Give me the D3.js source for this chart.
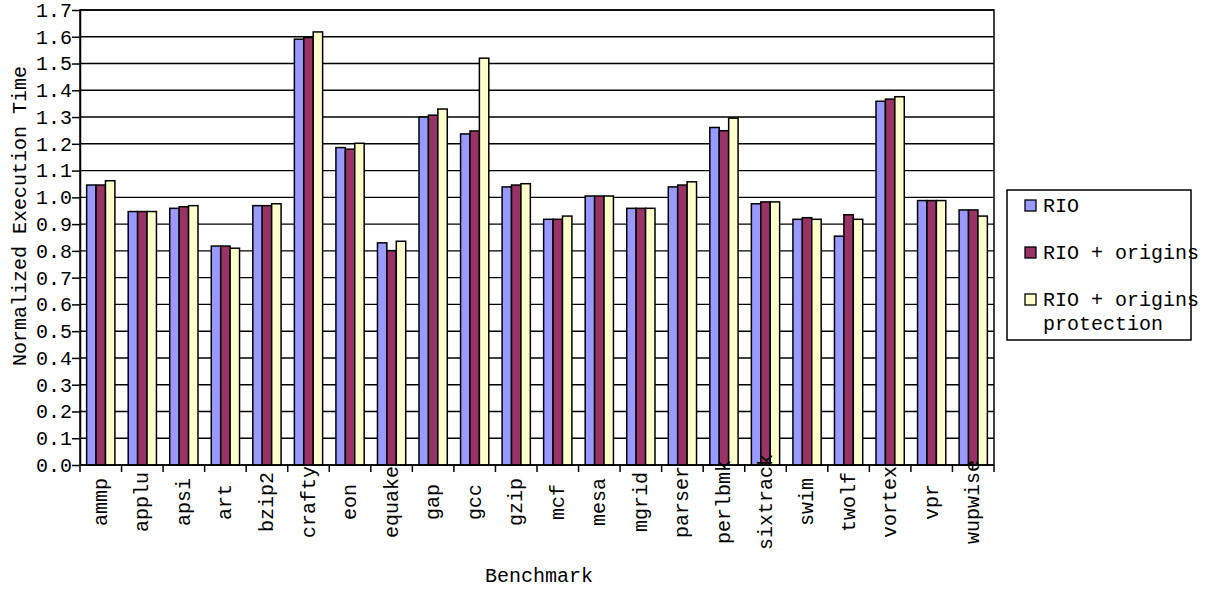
<!DOCTYPE html>
<html lang="en">
<head>
    <meta charset="utf-8"/>
    <title>Normalized Execution Time</title>
    <style>
        body {
            margin: 0;
            background: #fff;
        }

        svg text {
            font-family: "Liberation Mono", "DejaVu Sans Mono", monospace;
            font-size: 20px;
            fill: #000;
        }

        .grid line {
            stroke: #000;
            stroke-width: 1.4px;
        }

        .axis path, .axis line {
            stroke: #000;
            stroke-width: 1.5px;
        }

        .bar {
            stroke: #000;
            stroke-width: 1.5px;
        }
    </style>
</head>
<body>
    <div class="viz"></div>
    <script src="https://cdnjs.cloudflare.com/ajax/libs/d3/7.8.5/d3.min.js"></script>
    <script type="text/javascript">

        var benchmarks = ["ammp", "applu", "apsi", "art", "bzip2", "crafty", "eon", "equake",
            "gap", "gcc", "gzip", "mcf", "mesa", "mgrid", "parser", "perlbmk", "sixtrack",
            "swim", "twolf", "vortex", "vpr", "wupwise"];

        var seriesNames = ["RIO", "RIO + origins", "RIO + origins protection"];
        var seriesColors = ["#9999ff", "#993366", "#ffffcc"];

        var rio = [1.046, 0.947, 0.959, 0.818, 0.969, 1.591, 1.186, 0.830,
            1.300, 1.237, 1.039, 0.918, 1.005, 0.959, 1.039, 1.261, 0.976,
            0.918, 0.855, 1.359, 0.988, 0.953];
        var rioOrigins = [1.046, 0.947, 0.965, 0.818, 0.969, 1.597, 1.180, 0.801,
            1.307, 1.248, 1.046, 0.918, 1.005, 0.959, 1.046, 1.249, 0.983,
            0.924, 0.935, 1.367, 0.988, 0.953];
        var rioProtection = [1.062, 0.947, 0.969, 0.810, 0.976, 1.618, 1.202, 0.836,
            1.330, 1.520, 1.051, 0.930, 1.005, 0.959, 1.058, 1.296, 0.983,
            0.918, 0.918, 1.376, 0.988, 0.930];

        var yTicks = [0.0, 0.1, 0.2, 0.3, 0.4, 0.5, 0.6, 0.7, 0.8, 0.9,
            1.0, 1.1, 1.2, 1.3, 1.4, 1.5, 1.6, 1.7];

        var seriesValues = [rio, rioOrigins, rioProtection];

        var width = 1205, height = 590;
        var plot = {left: 80, right: 994, top: 10, bottom: 465};

        var svg = d3.select('.viz').append('svg')
            .attr('width', width)
            .attr('height', height);

        var x0 = d3.scaleBand()
            .domain(benchmarks)
            .range([plot.left, plot.right]);

        var x1 = d3.scaleBand()
            .domain(seriesNames)
            .range([x0.bandwidth() * 0.16, x0.bandwidth() * 0.84]);

        var y = d3.scaleLinear()
            .domain([0, 1.7])
            .range([plot.bottom, plot.top]);

        // horizontal grid lines
        svg.append("g")
            .attr("class", "grid")
            .selectAll("line")
            .data(yTicks.slice(1))
            .enter().append("line")
            .attr("x1", plot.left)
            .attr("x2", plot.right)
            .attr("y1", function(d) { return y(d); })
            .attr("y2", function(d) { return y(d); });

        // frame of the plot area
        svg.append("rect")
            .attr("x", plot.left)
            .attr("y", plot.top)
            .attr("width", plot.right - plot.left)
            .attr("height", plot.bottom - plot.top)
            .attr("fill", "none")
            .attr("stroke", "#000")
            .attr("stroke-width", 1.5);

        // bars
        var groups = svg.append("g")
            .selectAll("g")
            .data(benchmarks)
            .enter().append("g")
            .attr("transform", function(d) { return "translate(" + x0(d) + ",0)"; });

        groups.selectAll("rect")
            .data(function(d, i) {
                return seriesNames.map(function(s, k) {
                    return {series: s, k: k, value: seriesValues[k][i]};
                });
            })
            .enter().append("rect")
            .attr("class", "bar")
            .attr("x", function(d) { return x1(d.series); })
            .attr("width", x1.bandwidth())
            .attr("y", function(d) { return y(d.value); })
            .attr("height", function(d) { return y(0) - y(d.value); })
            .attr("fill", function(d) { return seriesColors[d.k]; });

        // y axis
        var yAxis = svg.append("g")
            .attr("class", "axis")
            .attr("transform", "translate(" + plot.left + ",0)")
            .call(d3.axisLeft(y).tickValues(yTicks).tickSize(8).tickSizeOuter(0)
                .tickFormat(d3.format(".1f")));
        yAxis.selectAll("text").attr("x", -8).style("font-size", "20px");

        // x axis: ticks on category boundaries
        var xAxis = svg.append("g")
            .attr("class", "axis");
        xAxis.append("line")
            .attr("x1", plot.left)
            .attr("x2", plot.right)
            .attr("y1", plot.bottom)
            .attr("y2", plot.bottom);
        xAxis.selectAll(".xtick")
            .data(benchmarks.concat(["end"]))
            .enter().append("line")
            .attr("class", "xtick")
            .attr("x1", function(d, i) { return plot.left + i * x0.step(); })
            .attr("x2", function(d, i) { return plot.left + i * x0.step(); })
            .attr("y1", plot.bottom)
            .attr("y2", plot.bottom + 7);

        xAxis.selectAll(".xlabel")
            .data(benchmarks)
            .enter().append("text")
            .attr("class", "xlabel")
            .attr("text-anchor", "middle")
            .attr("dy", "0.3em")
            .attr("transform", function(d) {
                return "translate(" + (x0(d) + x0.bandwidth() / 2) + ",502)rotate(-90)";
            })
            .text(function(d) { return d; });

        // axis titles
        svg.append("text")
            .attr("text-anchor", "middle")
            .attr("transform", "translate(26,216)rotate(-90)")
            .text("Normalized Execution Time");

        svg.append("text")
            .attr("text-anchor", "middle")
            .attr("x", 539)
            .attr("y", 582)
            .text("Benchmark");

        // legend
        var legend = svg.append("g")
            .attr("transform", "translate(1007,190)");

        legend.append("rect")
            .attr("width", 184)
            .attr("height", 150)
            .attr("fill", "#fff")
            .attr("stroke", "#000")
            .attr("stroke-width", 1.5);

        function wrapLabel(s, maxChars) {
            var words = s.split(" "), lines = [], cur = "";
            words.forEach(function(w) {
                var next = cur ? cur + " " + w : w;
                if (next.length > maxChars && cur) {
                    lines.push(cur);
                    cur = w;
                } else {
                    cur = next;
                }
            });
            lines.push(cur);
            return lines;
        }

        var items = legend.selectAll(".item")
            .data(seriesNames)
            .enter().append("g")
            .attr("class", "item")
            .attr("transform", function(d, i) { return "translate(0," + (10 + i * 47) + ")"; });

        items.append("rect")
            .attr("x", 18)
            .attr("width", 11)
            .attr("height", 11)
            .attr("fill", function(d, i) { return seriesColors[i]; })
            .attr("stroke", "#000")
            .attr("stroke-width", 1.3);

        items.append("text")
            .attr("x", 36)
            .attr("y", 11.5)
            .selectAll("tspan")
            .data(function(d) { return wrapLabel(d, 14); })
            .enter().append("tspan")
            .attr("x", 36)
            .attr("dy", function(d, j) { return j === 0 ? 0 : 24.5; })
            .text(function(d) { return d; });

    </script>
</body>
</html>
